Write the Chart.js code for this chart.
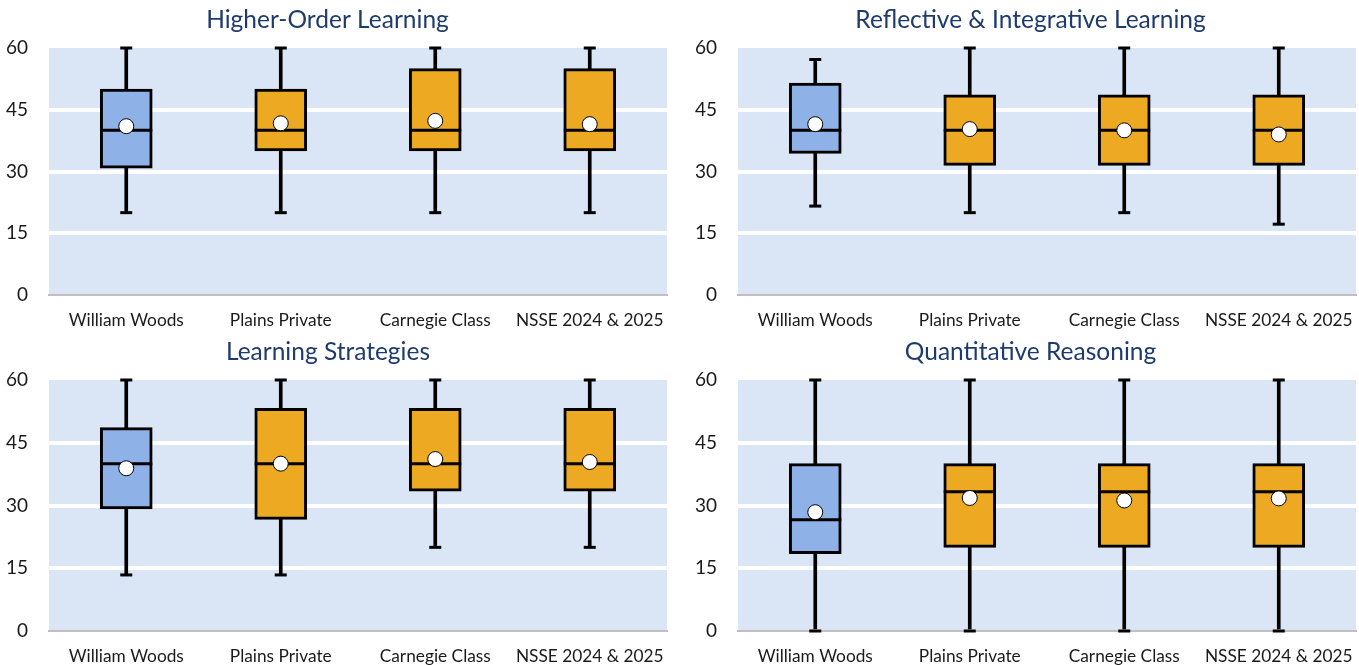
<!DOCTYPE html>
<html>
<head>
<meta charset="utf-8">
<script src="https://cdn.jsdelivr.net/npm/chart.js@4.4.1/dist/chart.umd.min.js"></script>
<style>
  html, body { margin: 0; padding: 0; background: #ffffff; }
  body { width: 1359px; height: 665px; position: relative; overflow: hidden; }
  canvas { position: absolute; display: block; }
</style>
</head>
<body>
<canvas id="c1" width="680" height="332" style="left:0;top:0"></canvas>
<canvas id="c2" width="679" height="332" style="left:680px;top:0"></canvas>
<canvas id="c3" width="680" height="333" style="left:0;top:332px"></canvas>
<canvas id="c4" width="679" height="333" style="left:680px;top:332px"></canvas>
<script>
// ---- data ----
const categories = ['William Woods', 'Plains Private', 'Carnegie Class', 'NSSE 2024 & 2025'];
const yTicks = [0, 15, 30, 45, 60];

// Higher-Order Learning
const hoTitle = 'Higher-Order Learning';
const hoMin  = [20, 20, 20, 20];
const hoQ1   = [30.8, 35, 35, 35];
const hoMed  = [40, 40, 40, 40];
const hoQ3   = [50, 50, 55, 55];
const hoMax  = [60, 60, 60, 60];
const hoMean = [41.0, 41.7, 42.3, 41.5];

// Reflective & Integrative Learning
const riTitle = 'Reflective & Integrative Learning';
const riMin  = [21.6, 20, 20, 17.2];
const riQ1   = [34.4, 31.5, 31.5, 31.5];
const riMed  = [40, 40, 40, 40];
const riQ3   = [51.5, 48.6, 48.6, 48.6];
const riMax  = [57.2, 60, 60, 60];
const riMean = [41.5, 40.3, 40.0, 39.0];

// Learning Strategies
const lsTitle = 'Learning Strategies';
const lsMin  = [13.4, 13.4, 20, 20];
const lsQ1   = [29.2, 26.7, 33.4, 33.4];
const lsMed  = [40, 40, 40, 40];
const lsQ3   = [48.6, 53.2, 53.2, 53.2];
const lsMax  = [60, 60, 60, 60];
const lsMean = [38.9, 40.0, 41.1, 40.4];

// Quantitative Reasoning
const qrTitle = 'Quantitative Reasoning';
const qrMin  = [0, 0, 0, 0];
const qrQ1   = [18.5, 20, 20, 20];
const qrMed  = [26.6, 33.3, 33.3, 33.3];
const qrQ3   = [40, 40, 40, 40];
const qrMax  = [60, 60, 60, 60];
const qrMean = [28.4, 31.8, 31.2, 31.7];

// ---- styles ----
const FONT = 'Lato, "Open Sans", sans-serif';
const BOX_COLORS = ['#8EB2E8', '#EEA922', '#EEA922', '#EEA922'];
const PLOT_BG = '#DAE5F6';
const TITLE_COLOR = '#1F3B6E';

const bgPlugin = {
  id: 'plotBg',
  beforeDraw(chart) {
    const a = chart.chartArea, ctx = chart.ctx;
    ctx.save();
    ctx.fillStyle = PLOT_BG;
    ctx.fillRect(a.left, a.top, a.right - a.left, a.bottom - a.top);
    ctx.restore();
  }
};
const titlePlugin = {
  id: 'panelTitle',
  afterDraw(chart, args, opts) {
    const ctx = chart.ctx;
    ctx.save();
    ctx.font = '24.5px ' + FONT;
    ctx.fillStyle = TITLE_COLOR;
    ctx.textAlign = 'center';
    ctx.textBaseline = 'alphabetic';
    ctx.fillText(opts.text, opts.x, 28);
    ctx.restore();
  }
};

function makeChart(id, title, titleX, mins, q1s, meds, q3s, maxs, means, axisW, rightPad, bottomH, xPad) {
  const ctx = document.getElementById(id);
  return new Chart(ctx, {
    data: {
      labels: categories,
      datasets: [
        { type: 'line', label: 'Mean', data: means, showLine: false, pointStyle: 'circle',
          pointRadius: 7.5, pointBackgroundColor: '#ffffff', pointBorderColor: '#000000',
          pointBorderWidth: 1, order: 0, clip: false },
        { type: 'line', label: 'Median', data: meds, showLine: false, pointStyle: 'line',
          pointRadius: 26, pointBorderColor: '#000000', pointBorderWidth: 3, order: 1, clip: false },
        { type: 'bar', label: 'IQR', data: q1s.map((v, i) => [v, q3s[i]]),
          backgroundColor: BOX_COLORS, borderColor: '#000000', borderWidth: 3,
          borderSkipped: false, barThickness: 52, grouped: false, order: 2, clip: false },
        { type: 'line', label: 'Max', data: maxs, showLine: false, pointStyle: 'line',
          pointRadius: 6, pointBorderColor: '#000000', pointBorderWidth: 3, order: 3, clip: false },
        { type: 'line', label: 'Min', data: mins, showLine: false, pointStyle: 'line',
          pointRadius: 6, pointBorderColor: '#000000', pointBorderWidth: 3, order: 3, clip: false },
        { type: 'bar', label: 'Range', data: mins.map((v, i) => [v, maxs[i]]),
          backgroundColor: '#000000', borderWidth: 0, barThickness: 3, grouped: false,
          order: 5, clip: false }
      ]
    },
    options: {
      responsive: false,
      animation: false,
      events: [],
      layout: { autoPadding: false, padding: { left: 0, right: rightPad, top: 48, bottom: 0 } },
      plugins: {
        legend: { display: false },
        tooltip: { enabled: false },
        panelTitle: { text: title, x: titleX }
      },
      scales: {
        x: {
          offset: true,
          grid: { display: false, drawTicks: false },
          border: { display: true, color: '#BFBFBF', width: 2 },
          ticks: { color: '#1a1a1a', font: { family: FONT, size: 17.3 }, padding: xPad, maxRotation: 0, autoSkip: false },
          afterFit: s => { s.height = bottomH; s.paddingLeft = 0; s.paddingRight = 0; }
        },
        y: {
          min: 0, max: 60,
          afterBuildTicks: s => { s.ticks = yTicks.map(v => ({ value: v })); },
          grid: {
            drawTicks: false,
            color: c => (c.tick && (c.tick.value === 0 || c.tick.value === 60)) ? 'rgba(0,0,0,0)' : '#ffffff',
            lineWidth: 4
          },
          border: { display: false },
          ticks: { color: '#1a1a1a', font: { family: FONT, size: 19 }, padding: 21 },
          afterFit: s => { s.width = axisW; s.paddingTop = 0; s.paddingBottom = 0; }
        }
      }
    },
    plugins: [bgPlugin, titlePlugin]
  });
}

makeChart('c1', hoTitle, 327.5, hoMin, hoQ1, hoMed, hoQ3, hoMax, hoMean, 49, 13, 37, 15);
makeChart('c2', riTitle, 350.5, riMin, riQ1, riMed, riQ3, riMax, riMean, 58, 3, 37, 15);
makeChart('c3', lsTitle, 328, lsMin, lsQ1, lsMed, lsQ3, lsMax, lsMean, 49, 13, 34, 15);
makeChart('c4', qrTitle, 350.5, qrMin, qrQ1, qrMed, qrQ3, qrMax, qrMean, 58, 3, 34, 15);
</script>
</body>
</html>
